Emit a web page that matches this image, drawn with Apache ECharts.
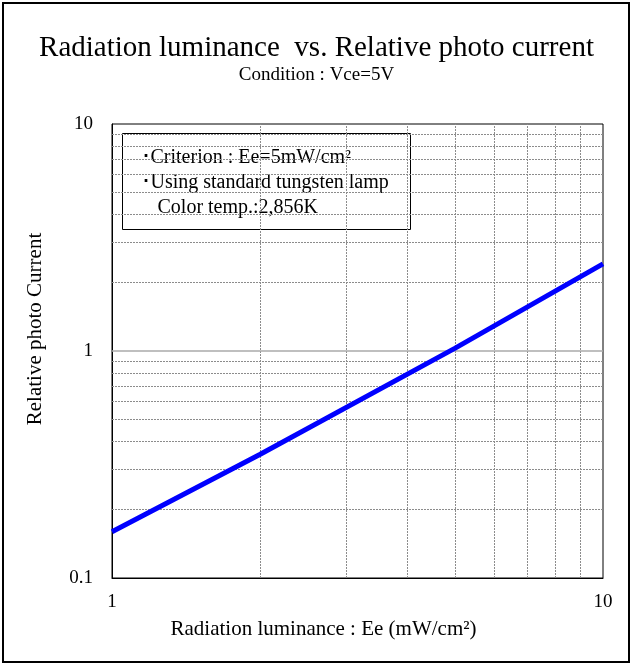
<!DOCTYPE html>
<html>
<head>
<meta charset="utf-8">
<script src="https://cdn.jsdelivr.net/npm/echarts@6/dist/echarts.min.js"></script>
<style>
  html, body { margin: 0; padding: 0; background: #fff; }
  #chart { width: 633px; height: 666px; }
</style>
</head>
<body>
<div id="chart"></div>
<script>
// values
var luminance = [1, 2, 5, 10];
var photoCurrent = [0.16, 0.35, 1.03, 2.42];
var xMinor = [2, 3, 4, 5, 6, 7, 8, 9];
var yMinor = [0.2, 0.3, 0.4, 0.5, 0.6, 0.7, 0.8, 0.9, 2, 3, 4, 5, 6, 7, 8, 9];
var yMajor = [1];
var noteLines = ['\uFF65Criterion : Ee=5mW/cm\u00B2', '\uFF65Using standard tungsten lamp', 'Color temp.:2,856K'];

var serif = '"Liberation Serif", "Times New Roman", serif';

var chart = echarts.init(document.getElementById('chart'));

var gridMarks = [];
for (var i = 0; i < xMinor.length; i++) gridMarks.push({ xAxis: xMinor[i] });
for (var j = 0; j < yMinor.length; j++) gridMarks.push({ yAxis: yMinor[j] });

var majorMarks = [];
for (var k = 0; k < yMajor.length; k++) majorMarks.push({ yAxis: yMajor[k] });

var pts = [];
for (var n = 0; n < luminance.length; n++) pts.push([luminance[n], photoCurrent[n]]);

var option = {
  animation: false,
  backgroundColor: '#fff',
  textStyle: { fontFamily: serif, color: '#000' },
  title: [
    {
      text: 'Radiation luminance  vs. Relative photo current',
      left: 'center',
      top: 29,
      textStyle: { fontFamily: serif, fontSize: 29, fontWeight: 'normal', color: '#000' }
    },
    {
      text: 'Condition : Vce=5V',
      left: 'center',
      top: 61,
      textStyle: { fontFamily: serif, fontSize: 19, fontWeight: 'normal', color: '#000' }
    }
  ],
  grid: {
    left: 112,
    top: 124,
    right: 30,
    bottom: 88,
    show: true,
    borderColor: '#000',
    borderWidth: 1
  },
  xAxis: {
    type: 'log',
    logBase: 10,
    min: 1,
    max: 10,
    name: 'Radiation luminance : Ee (mW/cm\u00B2)',
    nameLocation: 'middle',
    nameGap: 41,
    nameTextStyle: { fontFamily: serif, fontSize: 21, color: '#000', padding: [0, 68, 0, 0] },
    axisLine: { lineStyle: { color: '#000' } },
    axisTick: { show: false },
    axisLabel: { fontFamily: serif, fontSize: 19, color: '#000', margin: 15 },
    splitLine: { show: false }
  },
  yAxis: {
    type: 'log',
    logBase: 10,
    min: 0.1,
    max: 10,
    name: 'Relative photo Current',
    nameLocation: 'middle',
    nameGap: 66,
    nameTextStyle: { fontFamily: serif, fontSize: 21, color: '#000', padding: [0, 0, 0, 44] },
    axisLine: { lineStyle: { color: '#000' } },
    axisTick: { show: false },
    axisLabel: {
      fontFamily: serif, fontSize: 19, color: '#000', margin: 19,
      formatter: function (v) { return String(Math.round(v * 10) / 10); }
    },
    splitLine: { show: false }
  },
  graphic: [
    {
      type: 'rect',
      shape: { x: 3, y: 3, width: 626, height: 659 },
      style: { fill: 'none', stroke: '#000', lineWidth: 2 },
      silent: true
    },
    {
      type: 'group',
      left: 122,
      top: 133,
      z: 100,
      children: [
        {
          type: 'rect',
          shape: { x: 0, y: 0, width: 288, height: 96 },
          style: { fill: '#fff', stroke: '#000', lineWidth: 1 }
        },
        {
          type: 'text',
          x: 18, y: 24,
          style: { text: noteLines[0], font: '20px ' + serif, fill: '#000', verticalAlign: 'middle' }
        },
        {
          type: 'text',
          x: 18, y: 49,
          style: { text: noteLines[1], font: '20px ' + serif, fill: '#000', verticalAlign: 'middle' }
        },
        {
          type: 'text',
          x: 35, y: 74,
          style: { text: noteLines[2], font: '20px ' + serif, fill: '#000', verticalAlign: 'middle' }
        }
      ]
    }
  ],
  series: [
    {
      name: 'grid',
      type: 'line',
      data: [],
      z: 1,
      silent: true,
      markLine: {
        silent: true,
        symbol: 'none',
        label: { show: false },
        lineStyle: { color: '#8c8c8c', type: [2, 1], width: 1 },
        data: gridMarks
      }
    },
    {
      name: 'major',
      type: 'line',
      data: [],
      z: 1,
      silent: true,
      markLine: {
        silent: true,
        symbol: 'none',
        label: { show: false },
        lineStyle: { color: '#aaa', type: 'solid', width: 1.5 },
        data: majorMarks
      }
    },
    {
      name: 'Relative photo current',
      type: 'line',
      data: pts,
      z: 5,
      symbol: 'none',
      lineStyle: { color: '#0000ff', width: 5 }
    }
  ]
};

chart.setOption(option);
</script>
</body>
</html>
